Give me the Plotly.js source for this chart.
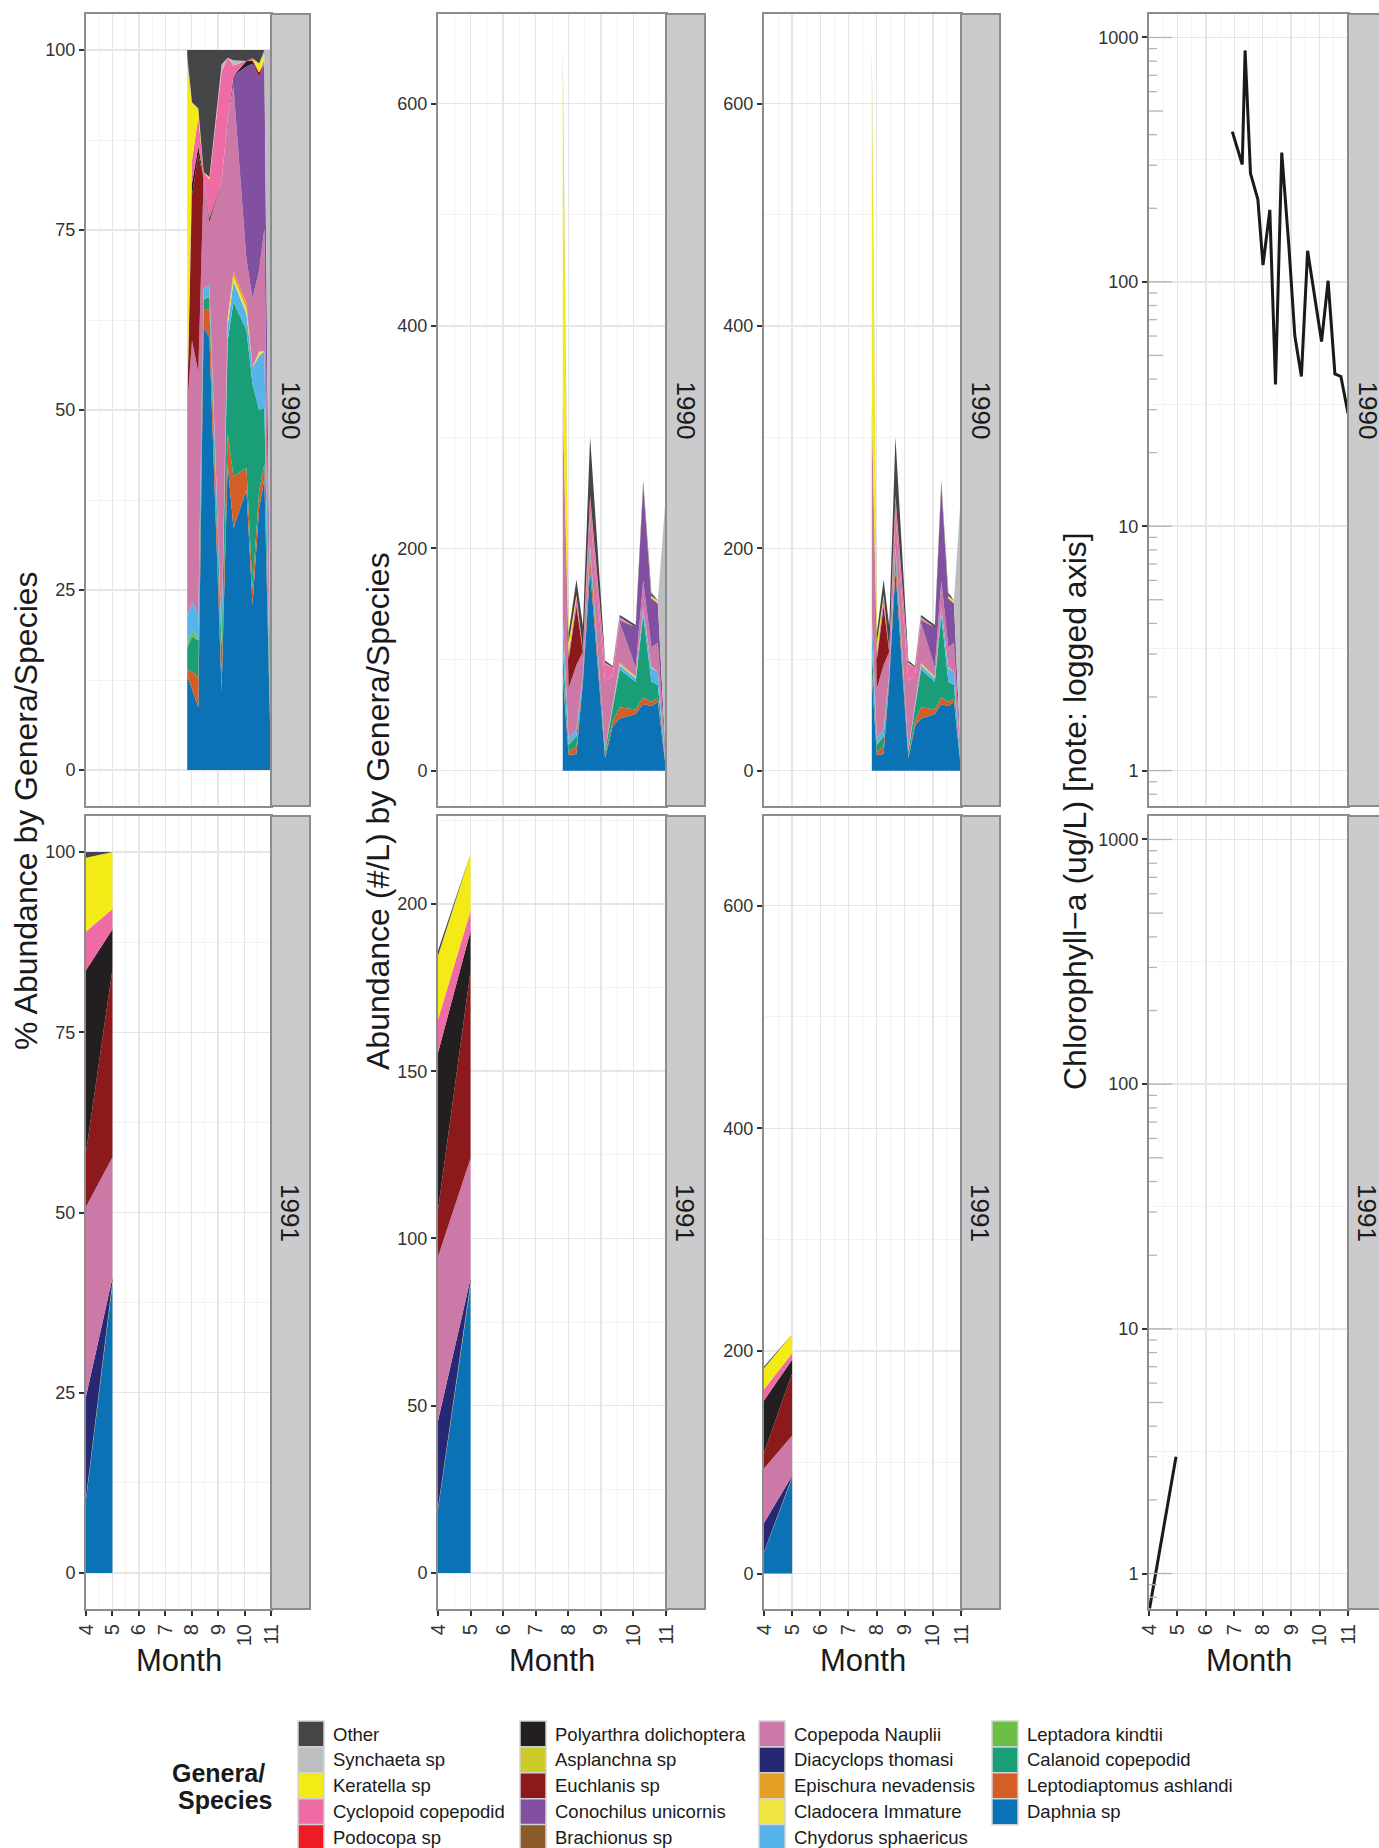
<!DOCTYPE html>
<html><head><meta charset="utf-8">
<script src="https://cdn.plot.ly/plotly-3.0.1.min.js"></script>
<style>html,body{margin:0;padding:0;background:#fff;overflow:hidden}</style>
</head><body><div id="chart" style="width:1379px;height:1848px"></div>
<script>
// ---------------- DATA ----------------
// stacking order, bottom -> top
const species = ['Daphnia sp','Leptodiaptomus ashlandi','Calanoid copepodid','Leptadora kindtii',
  'Chydorus sphaericus','Cladocera Immature','Epischura nevadensis','Diacyclops thomasi',
  'Copepoda Nauplii','Brachionus sp','Conochilus unicornis','Euchlanis sp','Asplanchna sp',
  'Polyarthra dolichoptera','Podocopa sp','Cyclopoid copepodid','Keratella sp','Synchaeta sp','Other'];
const speciesColors = ['#0b72b5','#d55e27','#1a9e77','#6abd45','#56b4e9','#f0e442','#e69f25','#262874',
  '#cc79a7','#8b5a2b','#8150a0','#8c1a1c','#cbcb29','#231f20','#ed1c24','#ef6ba5','#f3ea16','#bdbec0','#454547'];

const years = ['1990','1991'];
const months1990 = [7.83, 8.01, 8.25, 8.45, 8.67, 9.13, 9.36, 9.58, 10.07, 10.30, 10.55, 10.75, 11.0];
const months1991 = [4.0, 5.0];

// abundance (#/L) per species, 1990
const daphnia1990     = [85, 14, 15, 80, 180, 11, 40, 47, 51, 60, 58, 62, 1];
const leptodiap1990   = [5, 3, 7, 3, 12, 2, 4, 10, 4, 6, 4, 3, 0];
const calanoid1990    = [20, 6, 9, 2, 5, 4, 12, 34, 25, 74, 18, 12, 0];
const leptadora1990   = [3, 1, 0, 0, 1, 0, 0, 0, 0, 0, 0, 0, 0];
const chydorus1990    = [25, 5, 6, 2, 4, 2, 2, 4, 3, 6, 12, 12, 0];
const cladoceraImm1990= [0, 0, 0, 0, 0, 0, 1, 1, 1, 0, 1, 0, 0];
const epischura1990   = [0, 0, 0, 0, 0, 0, 0, 1, 1, 0, 0, 0, 0];
const diacyclops1990  = [0, 0, 0, 0, 0, 0, 0, 0, 0, 0, 0, 0, 0];
const nauplii1990     = [190, 45, 58, 20, 26, 62, 26, 36, 8, 25, 18, 26, 5];
const brachionus1990  = [0, 0, 0, 0, 0, 0, 0, 0, 0, 0, 0, 0, 0];
const conochilus1990  = [0, 0, 0, 0, 0, 0, 0, 2, 35, 85, 43, 35, 2];
const euchlanis1990   = [0, 25, 52, 0, 1, 0, 0, 0, 0, 0, 1, 0, 0];
const asplanchna1990  = [0, 0, 0, 0, 0, 0, 0, 0, 0, 0, 0, 0, 0];
const polyarthra1990  = [0, 2, 2, 0, 1, 0, 0, 0, 1, 1, 0, 0, 0];
const podocopa1990    = [0, 0, 0, 0, 0, 0, 0, 0, 0, 0, 0, 0, 0];
const cyclopoid1990   = [0, 4, 7, 1, 16, 15, 8, 2, 0, 1, 0, 1, 0];
const keratella1990   = [305, 10, 2, 0, 1, 0, 0, 0, 0, 0, 2, 1, 0];
const synchaeta1990   = [10, 0, 0, 0, 0, 1, 0, 1, 0, 0, 0, 1, 242];
const other1990       = [5, 9, 14, 22, 53, 2, 1, 2, 2, 3, 3, 0, 0];

// abundance (#/L) per species, 1991
const daphnia1991     = [19, 86];
const leptodiap1991   = [0, 0];
const calanoid1991    = [0, 0];
const leptadora1991   = [0, 0];
const chydorus1991    = [0, 0];
const cladoceraImm1991= [0, 0];
const epischura1991   = [0.5, 1];
const diacyclops1991  = [26, 1];
const nauplii1991     = [49, 36];
const brachionus1991  = [0, 0];
const conochilus1991  = [0, 0];
const euchlanis1991   = [14, 56];
const asplanchna1991  = [0, 0];
const polyarthra1991  = [47, 12];
const podocopa1991    = [0, 0];
const cyclopoid1991   = [10, 6];
const keratella1991   = [19, 17];
const synchaeta1991   = [0, 0];
const other1991       = [1.5, 0];

// chlorophyll-a (ug/L)
const chlMonths1990 = [6.93, 7.28, 7.38, 7.57, 7.83, 8.01, 8.25, 8.45, 8.67, 8.92, 9.13, 9.36, 9.58, 10.07, 10.30, 10.54, 10.75, 11.0];
const chl1990       = [412, 302, 885, 278, 217, 117, 197, 38, 338, 140, 60, 41, 134, 57, 101, 42, 41, 29];
const chlMonths1991 = [4.02, 4.95];
const chl1991       = [0.72, 3.0];

const monthTicks = [4, 5, 6, 7, 8, 9, 10, 11];
const monthTickLabels = ['4', '5', '6', '7', '8', '9', '10', '11'];

const series1990 = [daphnia1990, leptodiap1990, calanoid1990, leptadora1990, chydorus1990, cladoceraImm1990,
  epischura1990, diacyclops1990, nauplii1990, brachionus1990, conochilus1990, euchlanis1990, asplanchna1990,
  polyarthra1990, podocopa1990, cyclopoid1990, keratella1990, synchaeta1990, other1990];
const series1991 = [daphnia1991, leptodiap1991, calanoid1991, leptadora1991, chydorus1991, cladoceraImm1991,
  epischura1991, diacyclops1991, nauplii1991, brachionus1991, conochilus1991, euchlanis1991, asplanchna1991,
  polyarthra1991, podocopa1991, cyclopoid1991, keratella1991, synchaeta1991, other1991];

// ---------------- LAYOUT CONSTANTS ----------------
const W = 1379, H = 1848;
const colPx = [[86, 271], [438, 666], [764, 961], [1149, 1348]];
const stripW = 39;
const rowPx = [[14, 806], [816, 1609]];
const px = v => v / W;
const py = v => 1 - v / H;
const SANS = "'Liberation Sans', Arial, Helvetica, sans-serif";
const TXT = '#1a1a1a';
const GRID = '#e6e6e6', MINOR = '#f3f3f3', BORDER = '#8c8c8c';

const traces = [];
const layout = {
  width: W, height: H, margin: {l: 0, r: 0, t: 0, b: 0},
  paper_bgcolor: '#ffffff', plot_bgcolor: '#ffffff', showlegend: false,
  shapes: [], annotations: []
};

// y ranges per column/row
const yCfg = {
  '0': [{range: [-5, 105], dtick: 25, minor: 12.5}, {range: [-5, 105], dtick: 25, minor: 12.5}],
  '1': [{range: [-31.8, 680.5], dtick: 200, minor: 100}, {range: [-10.8, 226.3], dtick: 50, minor: 25}],
  '2': [{range: [-31.8, 680.5], dtick: 200, minor: 100}, {range: [-31.8, 680.5], dtick: 200, minor: 100}]
};

for (let r = 0; r < 2; r++) {
  for (let c = 0; c < 4; c++) {
    const n = r * 4 + c + 1;
    const xs = n === 1 ? '' : String(n);
    const xa = {
      domain: [px(colPx[c][0]), px(colPx[c][1])], anchor: 'y' + xs,
      range: [4, 11], tickmode: 'array', tickvals: monthTicks, ticktext: monthTickLabels,
      showticklabels: r === 1, ticks: r === 1 ? 'outside' : '', ticklen: 5, tickwidth: 2, tickcolor: '#333',
      tickangle: -90, tickfont: {family: SANS, size: 20, color: '#333'},
      showgrid: true, gridcolor: GRID, gridwidth: 1.5, zeroline: false,
      minor: {tick0: 4, dtick: 0.5, showgrid: true, gridcolor: MINOR, gridwidth: 1, ticks: ''},
      showline: true, mirror: true, linecolor: BORDER, linewidth: 2, fixedrange: true
    };
    let ya = {
      domain: [py(rowPx[r][1]), py(rowPx[r][0])], anchor: 'x' + xs,
      ticks: 'outside', ticklen: 5, tickwidth: 2, tickcolor: '#333',
      tickfont: {family: SANS, size: 18, color: '#333'},
      showgrid: true, gridcolor: GRID, gridwidth: 1.5, zeroline: false,
      showline: true, mirror: true, linecolor: BORDER, linewidth: 2, fixedrange: true
    };
    if (c < 3) {
      const cfg = yCfg[String(c)][r];
      ya.range = cfg.range; ya.tick0 = 0; ya.dtick = cfg.dtick;
      ya.minor = {tick0: 0, dtick: cfg.minor, showgrid: true, gridcolor: MINOR, gridwidth: 1, ticks: ''};
    } else {
      ya.type = 'log'; ya.range = [-0.145, 3.096];
      ya.tickmode = 'array'; ya.tickvals = [1, 10, 100, 1000]; ya.ticktext = ['1', '10', '100', '1000'];
      ya.minor = {tickmode: 'array', tickvals: [0.316, 3.16, 31.6, 316], showgrid: true, gridcolor: MINOR, gridwidth: 1, ticks: ''};
    }
    layout['xaxis' + xs] = xa;
    layout['yaxis' + xs] = ya;

    // data traces
    if (c < 3) {
      const months = r === 0 ? months1990 : months1991;
      const series = r === 0 ? series1990 : series1991;
      species.forEach((sp, i) => {
        traces.push({
          type: 'scatter', name: sp, x: months, y: series[i],
          xaxis: 'x' + xs, yaxis: 'y' + xs, stackgroup: 'g' + n,
          groupnorm: c === 0 ? 'percent' : '',
          mode: 'lines', line: {width: 0, color: speciesColors[i]},
          fillcolor: speciesColors[i], hoverinfo: 'skip', showlegend: false
        });
      });
    } else {
      traces.push({
        type: 'scatter', name: 'Chlorophyll-a ' + years[r],
        x: r === 0 ? chlMonths1990 : chlMonths1991, y: r === 0 ? chl1990 : chl1991,
        xaxis: 'x' + xs, yaxis: 'y' + xs, mode: 'lines',
        line: {color: '#1a1a1a', width: 3}, hoverinfo: 'skip', showlegend: false
      });
      // annotation_logticks style marks (axis decoration)
      for (let k = -1; k <= 3; k++) {
        for (let m = 1; m <= 9; m++) {
          const v = m * Math.pow(10, k);
          if (v < 0.72 || v > 1240) continue;
          const len = m === 1 ? 0.115 : (m === 5 ? 0.07 : 0.04);
          layout.shapes.push({type: 'line', xref: 'x' + xs + ' domain', yref: 'y' + xs,
            x0: 0, x1: len, y0: v, y1: v, line: {color: '#b3b3b3', width: 1.3}});
        }
      }
    }

    // facet strip
    layout.shapes.push({type: 'rect', xref: 'paper', yref: 'paper',
      x0: px(colPx[c][1]), x1: px(colPx[c][1] + stripW), y0: py(rowPx[r][1]), y1: py(rowPx[r][0]),
      fillcolor: '#cbcbcd', line: {color: BORDER, width: 2}, layer: 'above'});
    layout.annotations.push({xref: 'paper', yref: 'paper',
      x: px(colPx[c][1] + stripW / 2), y: py((rowPx[r][0] + rowPx[r][1]) / 2),
      text: years[r], textangle: 90, showarrow: false, xanchor: 'center', yanchor: 'middle',
      font: {family: SANS, size: 26, color: TXT}});
  }
}

// axis titles
const yTitles = [
  {x: 26, text: '% Abundance by Genera/Species'},
  {x: 378, text: 'Abundance (#/L) by Genera/Species'},
  {x: 1075, text: 'Chlorophyll\u2212a (ug/L) [note: logged axis]'}
];
yTitles.forEach(t => layout.annotations.push({xref: 'paper', yref: 'paper', x: px(t.x), y: py(811),
  text: t.text, textangle: -90, showarrow: false, xanchor: 'center', yanchor: 'middle',
  font: {family: SANS, size: 32, color: TXT}}));
colPx.forEach(cp => layout.annotations.push({xref: 'paper', yref: 'paper', x: px((cp[0] + cp[1]) / 2), y: py(1660),
  text: 'Month', showarrow: false, xanchor: 'center', yanchor: 'middle',
  font: {family: SANS, size: 31, color: TXT}}));

// legend (column-major, reverse of stacking order)
const legendOrder = species.slice().reverse();
const legendColors = speciesColors.slice().reverse();
const legColX = [298, 520, 759, 992];
legendOrder.forEach((sp, i) => {
  const col = Math.floor(i / 5), row = i % 5;
  const cy = 1734 + row * 25.9;
  const sx = legColX[col];
  layout.shapes.push({type: 'rect', xref: 'paper', yref: 'paper',
    x0: px(sx), x1: px(sx + 26), y0: py(cy + 13), y1: py(cy - 13),
    fillcolor: legendColors[i], line: {color: '#d2d2d2', width: 1.5}});
  layout.annotations.push({xref: 'paper', yref: 'paper', x: px(sx + 33), y: py(cy),
    text: sp, showarrow: false, xanchor: 'left', yanchor: 'middle',
    font: {family: SANS, size: 18.5, color: TXT}});
});
layout.annotations.push({xref: 'paper', yref: 'paper', x: px(218), y: py(1773), text: '<b>Genera/</b>',
  showarrow: false, xanchor: 'center', yanchor: 'middle', font: {family: SANS, size: 25, color: TXT}});
layout.annotations.push({xref: 'paper', yref: 'paper', x: px(225), y: py(1800), text: '<b>Species</b>',
  showarrow: false, xanchor: 'center', yanchor: 'middle', font: {family: SANS, size: 25, color: TXT}});

Plotly.newPlot('chart', traces, layout, {staticPlot: true, displayModeBar: false});
</script>
</body></html>
